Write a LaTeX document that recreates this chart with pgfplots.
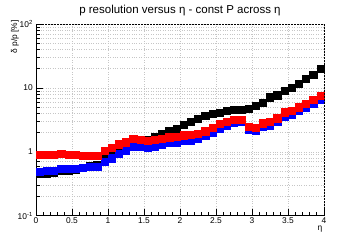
\documentclass[border=0pt]{standalone}
\usepackage{pgfplots}
\pgfplotsset{compat=1.18}
\usepackage{pgfplotstable}
\usepackage{fontspec}
\setmainfont{Liberation Sans}

\pgfplotstableread{
x y
0.05 0.46
0.15 0.46
0.25 0.47
0.35 0.51
0.45 0.50
0.55 0.52
0.65 0.56
0.75 0.61
0.85 0.63
0.95 0.84
1.05 0.95
1.15 1.12
1.25 1.25
1.35 1.38
1.45 1.40
1.55 1.55
1.65 1.72
1.75 1.88
1.85 2.12
1.95 2.30
2.05 2.65
2.15 2.93
2.25 3.30
2.35 3.67
2.45 3.92
2.55 4.12
2.65 4.38
2.75 4.51
2.85 4.60
2.95 4.72
3.05 5.21
3.15 5.86
3.25 7.13
3.35 7.66
3.45 9.04
3.55 10.07
3.65 11.6
3.75 13.8
3.85 16.1
3.95 19.96
}\blackdata

\pgfplotstableread{
x y
0.05 0.49
0.15 0.50
0.25 0.51
0.35 0.55
0.45 0.54
0.55 0.54
0.65 0.56
0.75 0.58
0.85 0.59
0.95 0.70
1.05 0.79
1.15 0.93
1.25 1.05
1.35 1.19
1.45 1.19
1.55 1.15
1.65 1.19
1.75 1.30
1.85 1.42
1.95 1.42
2.05 1.49
2.15 1.49
2.25 1.59
2.35 1.79
2.45 1.97
2.55 2.33
2.65 2.60
2.75 2.82
2.85 2.96
2.95 2.19
3.05 2.12
3.15 2.45
3.25 2.60
3.35 2.95
3.45 3.60
3.55 3.85
3.65 4.35
3.75 4.90
3.85 5.65
3.95 6.50
}\bluedata

\pgfplotstableread{
x y
0.05 0.89
0.15 0.89
0.25 0.90
0.35 0.93
0.45 0.91
0.55 0.90
0.65 0.88
0.75 0.87
0.85 0.86
0.95 1.04
1.05 1.16
1.15 1.31
1.25 1.42
1.35 1.59
1.45 1.53
1.55 1.51
1.65 1.55
1.75 1.62
1.85 1.69
1.95 1.72
2.05 1.81
2.15 1.85
2.25 1.90
2.35 2.09
2.45 2.38
2.55 2.77
2.65 2.98
2.75 3.20
2.85 3.20
2.95 2.49
3.05 2.38
3.15 2.79
3.25 2.96
3.35 3.34
3.45 4.15
3.55 4.40
3.65 4.97
3.75 5.60
3.85 6.47
3.95 7.47
}\reddata

\begin{document}
\begin{tikzpicture}
\path[use as bounding box] (0,0) rectangle (360bp,240bp);
\begin{axis}[
  at={(36bp,24.3bp)}, anchor=south west,
  scale only axis, width=288bp, height=191.7bp,
  xmin=0, xmax=4, ymin=0.1, ymax=100, ymode=log,
  axis x line*=bottom, axis y line*=left,
  axis line style={black, line width=0.6bp},
  font=\fontsize{8.4bp}{10bp}\selectfont,
  xtick={0,0.5,1,1.5,2,2.5,3,3.5,4},
  xticklabels={0,0.5,1,1.5,2,2.5,3,3.5,4},
  minor x tick num=4,
  ytick={0.1,1,10,100},
  yticklabels={10\textsuperscript{-1},1,10,10\textsuperscript{2}},
  minor ytick={0.2,0.3,0.4,0.5,0.6,0.7,0.8,0.9,2,3,4,5,6,7,8,9,20,30,40,50,60,70,80,90},
  tick align=inside,
  major tick length=7bp, minor tick length=3.5bp,
  tick style={black, line width=0.6bp},
  xmajorgrids, ymajorgrids, yminorgrids,
  major grid style={gray!45, dotted, line width=0.5bp},
  minor grid style={gray!45, dotted, line width=0.5bp},
  xticklabel style={inner sep=0pt, yshift=-1.5bp},
  yticklabel style={inner sep=0pt, xshift=-3bp},
  clip mode=individual,
  clip marker paths=false,
]
\addplot[only marks, mark=square*, black, mark size=3.65bp, mark options={draw=none, fill=black}] table[x=x,y=y] {\blackdata};
\addplot[only marks, mark=square*, blue, mark size=3.65bp, mark options={draw=none, fill=blue}] table[x=x,y=y] {\bluedata};
\addplot[only marks, mark=square*, red, mark size=3.65bp, mark options={draw=none, fill=red}] table[x=x,y=y] {\reddata};
\draw[black, line width=0.6bp, dash pattern=on 2bp off 1bp] (rel axis cs:0,1) -- (rel axis cs:1,1) -- (rel axis cs:1,0);
\node[anchor=base, inner sep=0pt, font=\fontsize{11.5bp}{13bp}\selectfont] at ([yshift=11bp]rel axis cs:0.5,1) {p resolution versus η - const P across η};
\node[rotate=90, anchor=east, inner sep=0pt, font=\fontsize{8.4bp}{10bp}\selectfont] at ([xshift=-21bp, yshift=4bp]rel axis cs:0,1) {δ p/p [\%]};
\node[anchor=center, inner sep=0pt, font=\fontsize{8.4bp}{10bp}\selectfont] at ([xshift=-4bp, yshift=-13bp]rel axis cs:1,0) {η};
\end{axis}
\end{tikzpicture}
\end{document}
